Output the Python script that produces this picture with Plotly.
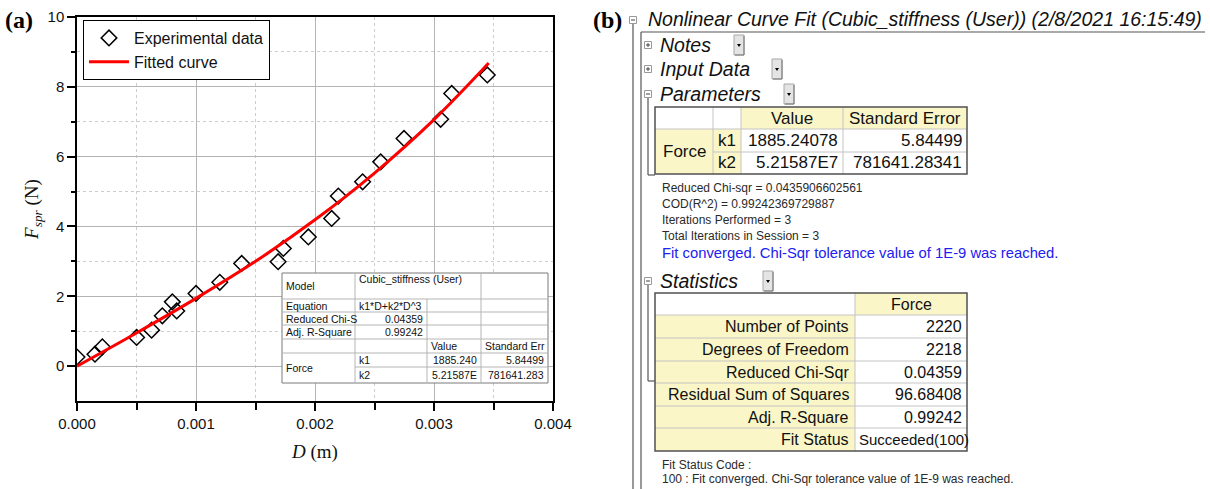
import plotly.graph_objects as go

W, H = 1210, 489

# ---------------- data ----------------
D_exp = [0.0, 0.000151, 0.000213, 0.000501, 0.000627, 0.000717, 0.000801, 0.000838,
         0.001, 0.0012, 0.001384, 0.00169, 0.001734, 0.001944, 0.00214, 0.002196,
         0.0024, 0.002552, 0.002748, 0.003056, 0.003149, 0.003448]
F_exp = [0.26, 0.34, 0.55, 0.82, 1.03, 1.44, 1.84, 1.58,
         2.08, 2.40, 2.94, 2.99, 3.37, 3.70, 4.23, 4.87,
         5.28, 5.85, 6.52, 7.07, 7.81, 8.34]

D_fit = [0.0, 0.0005, 0.001, 0.0015, 0.002, 0.0025, 0.003, 0.00346]
F_fit = [0.0, 0.95, 1.94, 3.00, 4.19, 5.53, 7.06, 8.68]

x_ticks = [0.0, 0.001, 0.002, 0.003, 0.004]
x_ticktext = ["0.000", "0.001", "0.002", "0.003", "0.004"]
x_minor = [0.0005, 0.0015, 0.0025, 0.0035]
y_ticks = [0, 2, 4, 6, 8, 10]
y_minor = [1, 3, 5, 7, 9]

# inset table (panel a)
inset_model = "Cubic_stiffness (User)"
inset_rows = [("Equation", "k1*D+k2*D^3"), ("Reduced Chi-S", "0.04359"), ("Adj. R-Square", "0.99242")]
inset_head = ["Value", "Standard Err"]
inset_params = [("k1", "1885.240", "5.84499"), ("k2", "5.21587E", "781641.283")]

# panel b content
report_title = "Nonlinear Curve Fit (Cubic_stiffness (User)) (2/8/2021 16:15:49)"
param_head = ["Value", "Standard Error"]
param_rows = [("k1", "1885.24078", "5.84499"), ("k2", "5.21587E7", "781641.28341")]
info_lines = ["Reduced Chi-sqr = 0.0435906602561", "COD(R^2) = 0.99242369729887",
              "Iterations Performed = 3", "Total Iterations in Session = 3"]
info_blue = "Fit converged. Chi-Sqr tolerance value of 1E-9 was reached."
stat_labels = ["Number of Points", "Degrees of Freedom", "Reduced Chi-Sqr",
               "Residual Sum of Squares", "Adj. R-Square", "Fit Status"]
stat_values = ["2220", "2218", "0.04359", "96.68408", "0.99242", "Succeeded(100)"]
foot_lines = ["Fit Status Code :", "100 : Fit converged. Chi-Sqr tolerance value of 1E-9 was reached."]

SANS = "Liberation Sans, Arial, sans-serif"
SERIF = "Liberation Serif, Times New Roman, serif"
YEL = "#FAF6C8"

# ---------------- helpers (pixel -> paper) ----------------
shapes, annotations = [], []

def X(px):
    return px / W

def Y(py):
    return 1 - py / H

def line(x0, y0, x1, y1, color="#555", width=1):
    shapes.append(dict(type="line", xref="paper", yref="paper", x0=X(x0), y0=Y(y0),
                       x1=X(x1), y1=Y(y1), line=dict(color=color, width=width), layer="above"))

def rect(x0, y0, x1, y1, fill=None, color=None, width=0):
    shapes.append(dict(type="rect", xref="paper", yref="paper", x0=X(x0), y0=Y(y0),
                       x1=X(x1), y1=Y(y1), fillcolor=fill or "rgba(0,0,0,0)",
                       line=dict(color=color or "rgba(0,0,0,0)", width=width), layer="above"))

def path(pts, fill):
    p = "M " + " L ".join(f"{X(a)},{Y(b)}" for a, b in pts) + " Z"
    shapes.append(dict(type="path", xref="paper", yref="paper", path=p, fillcolor=fill,
                       line=dict(width=0), layer="above"))

def text(x, y, s, size, color="#111", anchor="left", family=SANS):
    annotations.append(dict(xref="paper", yref="paper", x=X(x), y=Y(y), text=s,
                            showarrow=False, xanchor=anchor, yanchor="middle",
                            borderpad=0, font=dict(family=family, size=size, color=color)))

def box_icon(cx, cy, plus):
    rect(cx - 3.5, cy - 3.5, cx + 3.5, cy + 3.5, fill="white", color="#999", width=1)
    line(cx - 2, cy, cx + 2, cy, color="#444", width=1)
    if plus:
        line(cx, cy - 2, cx, cy + 2, color="#444", width=1)

def dropdown(x0, y0):
    rect(x0, y0, x0 + 10, y0 + 20, fill="#e4e4e4", color="#a8a8a8", width=1)
    line(x0 + 10, y0 + 1, x0 + 10, y0 + 20, color="#777", width=1)
    line(x0 + 1, y0 + 20, x0 + 10, y0 + 20, color="#777", width=1)
    path([(x0 + 3, y0 + 9), (x0 + 7, y0 + 9), (x0 + 5, y0 + 12)], "black")

# ---------------- figure ----------------
fig = go.Figure()
fig.add_trace(go.Scatter(x=D_exp, y=F_exp, mode="markers", name="Experimental data",
                         marker=dict(symbol="diamond-open", size=12, color="black",
                                     line=dict(width=1.5, color="black"))))
fig.add_trace(go.Scatter(x=D_fit, y=F_fit, mode="lines", name="Fitted curve",
                         line=dict(color="#FF0000", width=3, shape="spline", smoothing=1.0)))

# ---- inset table in panel (a) ----
ic = [282, 355, 427, 481, 548]
ir = [273, 299, 312, 325, 339, 353, 367, 383]
rect(ic[0], ir[0], ic[-1], ir[-1], fill="white", color="#7a7a7a", width=1)
for yy in ir[1:6]:
    line(ic[0], yy, ic[-1], yy, color="#b5b5b5")
line(ic[1], ir[6], ic[-1], ir[6], color="#b5b5b5")
line(ic[1], ir[0], ic[1], ir[-1], color="#b5b5b5")
line(ic[2], ir[1], ic[2], ir[-1], color="#b5b5b5")
line(ic[3], ir[0], ic[3], ir[-1], color="#b5b5b5")
IS = 10.5
text(ic[0] + 3, (ir[0] + ir[1]) / 2, "Model", IS)
text(ic[1] + 3, ir[0] + 6, inset_model, IS)
for k, (lab, val) in enumerate(inset_rows):
    yc = (ir[1 + k] + ir[2 + k]) / 2
    text(ic[0] + 3, yc, lab, IS)
    if k == 0:
        text(ic[1] + 3, yc, val, IS)
    else:
        text(ic[2] - 3, yc, val, IS, anchor="right")
yc = (ir[4] + ir[5]) / 2
text(ic[2] + 3, yc, inset_head[0], IS)
text(ic[3] + 3, yc, inset_head[1], IS)
text(ic[0] + 3, (ir[5] + ir[7]) / 2, "Force", IS)
for k, (p, v, e) in enumerate(inset_params):
    yc = (ir[5 + k] + ir[6 + k]) / 2
    text(ic[1] + 3, yc, p, IS)
    text(ic[3] - 3, yc, v, IS, anchor="right")
    text(ic[4] - 3, yc, e, IS, anchor="right")

# ---- panel labels ----
text(4, 20, "<b>(a)</b>", 24, color="black", family=SERIF)
text(592, 20, "<b>(b)</b>", 24, color="black", family=SERIF)

# ---- panel (b) tree ----
TREE = "#555"
box_icon(633, 20, False)
line(633, 24, 633, 489, color=TREE, width=1.2)
line(641, 32, 1205, 32, color=TREE, width=1.2)
line(641, 32, 641, 489, color=TREE, width=1.2)
text(647, 19, "<i>" + report_title + "</i>", 19.5, color="#111")

HS = 19.5
heads = [("Notes", 45, True, 734), ("Input Data", 69, True, 772),
         ("Parameters", 94, False, 784), ("Statistics", 281, False, 763)]
for name, yc, plus, bx in heads:
    box_icon(648, yc, plus)
    text(659, yc, "<i>" + name + "</i>", HS, color="#111")
    dropdown(bx, yc - 10)

# parameters bracket
line(648, 98, 648, 175, color=TREE, width=1.2)
line(648, 175, 655, 175, color=TREE, width=1.2)

# parameters table
pc = [655, 713, 741, 843, 967]
pr = [107, 129, 152, 174]
rect(pc[0], pr[0], pc[4], pr[3], fill="white")
rect(pc[2], pr[0], pc[4], pr[1], fill=YEL)
rect(pc[0], pr[1], pc[2], pr[3], fill=YEL)
GL = "#c4c4c4"
line(pc[0], pr[1], pc[4], pr[1], color=GL)
line(pc[1], pr[2], pc[4], pr[2], color=GL)
for xx in pc[1:4]:
    line(xx, pr[0], xx, pr[3], color=GL)
rect(pc[0], pr[0], pc[4], pr[3], color="#505050", width=1.5)
PS = 17
text((pc[2] + pc[3]) / 2, (pr[0] + pr[1]) / 2, param_head[0], PS, anchor="center")
text((pc[3] + pc[4]) / 2, (pr[0] + pr[1]) / 2, param_head[1], PS, anchor="center")
text((pc[0] + pc[1]) / 2, (pr[1] + pr[3]) / 2, "Force", PS, anchor="center")
for k, (p, v, e) in enumerate(param_rows):
    yc = (pr[1 + k] + pr[2 + k]) / 2
    text((pc[1] + pc[2]) / 2, yc, p, PS, anchor="center")
    text(pc[3] - 4, yc, v, PS, anchor="right")
    text(pc[4] - 4, yc, e, PS, anchor="right")

# info lines
for k, s in enumerate(info_lines):
    text(661, 188 + 16 * k, s, 12, color="#2a2a2a")
text(661, 253, info_blue, 14.8, color="#2020F0")

# statistics bracket
line(648, 285, 648, 381, color=TREE, width=1.2)
line(648, 381, 655, 381, color=TREE, width=1.2)

# statistics table
sc = [655, 855, 967]
sr = [293, 315, 338, 361, 383, 406, 428, 451]
rect(sc[0], sr[0], sc[2], sr[-1], fill="white")
rect(sc[1], sr[0], sc[2], sr[1], fill=YEL)
rect(sc[0], sr[1], sc[1], sr[-1], fill=YEL)
for yy in sr[1:-1]:
    line(sc[0], yy, sc[2], yy, color=GL)
line(sc[1], sr[0], sc[1], sr[-1], color=GL)
rect(sc[0], sr[0], sc[2], sr[-1], color="#505050", width=1.5)
SS = 16
text((sc[1] + sc[2]) / 2, (sr[0] + sr[1]) / 2, "Force", SS, anchor="center")
for k, (lab, val) in enumerate(zip(stat_labels, stat_values)):
    yc = (sr[1 + k] + sr[2 + k]) / 2
    text(sc[1] - 5, yc, lab, SS, anchor="right")
    if val.startswith("Succeeded"):
        text(sc[1] + 3, yc, val, 15)
    else:
        text(sc[2] - 4, yc, val, SS, anchor="right")

for k, s in enumerate(foot_lines):
    text(661, 465 + 14 * k, s, 12, color="#2a2a2a")

# ---------------- axes ----------------
axis_common = dict(showline=True, linecolor="black", linewidth=1.5, mirror=True,
                   ticks="outside", tickcolor="black", tickwidth=1.5, ticklen=8,
                   showgrid=True, gridcolor="#b4b4b4", gridwidth=1, zeroline=False,
                   automargin=False,
                   tickfont=dict(family=SANS, size=15, color="#111"))

fig.update_layout(
    width=W, height=H,
    margin=dict(l=0, r=0, t=0, b=0),
    paper_bgcolor="white", plot_bgcolor="white",
    showlegend=True,
    legend=dict(x=X(83), y=Y(20), xanchor="left", yanchor="top",
                bgcolor="white", bordercolor="black", borderwidth=1,
                font=dict(family=SANS, size=16, color="#111"),
                itemwidth=40, tracegroupgap=0),
    xaxis=dict(domain=[X(77), X(553)], range=[0, 0.004],
               tickvals=x_ticks, ticktext=x_ticktext,
               minor=dict(tickvals=x_minor, ticklen=7, tickcolor="black", tickwidth=1.5,
                          showgrid=True, gridcolor="#cccccc", griddash="dot"),
               title=dict(text="<i>D</i> (m)", standoff=14,
                          font=dict(family=SERIF, size=19, color="#111")),
               **axis_common),
    yaxis=dict(domain=[Y(401), Y(17)], range=[-1, 10],
               tickvals=y_ticks,
               minor=dict(tickvals=y_minor, ticklen=4, tickcolor="black", tickwidth=1.5,
                          showgrid=True, gridcolor="#cccccc", griddash="dot"),
               title=dict(text="<i>F</i><sub><i>spr</i></sub> (N)", standoff=4,
                          font=dict(family=SERIF, size=19, color="#111")),
               **axis_common),
    shapes=shapes,
    annotations=annotations,
)

fig.write_html("out.html")
